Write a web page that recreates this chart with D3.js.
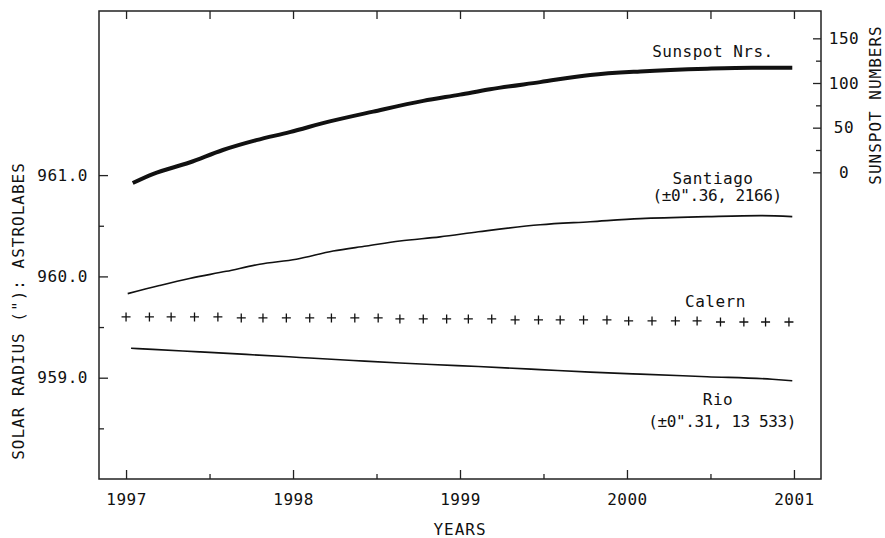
<!DOCTYPE html>
<meta charset="utf-8">
<style>
  body { margin: 0; background: #fff; }
  svg text { font-family: "DejaVu Sans Mono", monospace; font-size: 16px; fill: #111; letter-spacing: 0.5px; }
  svg text.title { letter-spacing: 1px; }
  svg text.err { letter-spacing: -0.4px; }
  .frame { fill: none; stroke: #222; stroke-width: 1.5px; }
  .axis path { display: none; }
  .axis line { stroke: #222; stroke-width: 1.3px; }
</style>
<body>
<script src="https://cdn.jsdelivr.net/npm/d3@7"></script>
<script>
// values
var sunspotYear = [1997.04, 1997.16, 1997.38, 1997.58, 1997.78, 1997.98, 1998.22, 1998.48, 1998.78, 1999.00, 1999.18, 1999.48, 1999.78, 2000.08, 2000.48, 2000.75, 2000.99];
var sunspotNum  = [-12, -2, 11, 25, 36, 45, 57, 68, 80, 87, 93, 101, 109, 113, 116, 117, 117];

var santiagoYear = [1997.01, 1997.20, 1997.38, 1997.60, 1997.80, 1998.02, 1998.24, 1998.44, 1998.64, 1998.88, 1999.11, 1999.48, 1999.78, 2000.08, 2000.48, 2000.80, 2000.99];
var santiagoR    = [959.83, 959.91, 959.98, 960.05, 960.12, 960.17, 960.25, 960.30, 960.35, 960.39, 960.44, 960.51, 960.54, 960.57, 960.59, 960.60, 960.59];

var calernYear = [1997.00, 1997.14, 1997.27, 1997.41, 1997.55, 1997.69, 1997.82, 1997.96, 1998.10, 1998.23,
                  1998.37, 1998.51, 1998.64, 1998.78, 1998.92, 1999.05, 1999.19, 1999.33, 1999.47, 1999.60,
                  1999.74, 1999.88, 2000.01, 2000.15, 2000.29, 2000.42, 2000.56, 2000.70, 2000.83, 2000.97];
var calernR    = [959.60, 959.60, 959.60, 959.60, 959.60, 959.59, 959.59, 959.59, 959.59, 959.59,
                  959.59, 959.59, 959.58, 959.58, 959.58, 959.58, 959.58, 959.57, 959.57, 959.57,
                  959.57, 959.57, 959.56, 959.56, 959.56, 959.56, 959.55, 959.55, 959.55, 959.55];

var rioYear = [1997.03, 1997.16, 1997.44, 1997.72, 1998.04, 1998.36, 1998.64, 1998.83, 1999.11, 1999.48, 1999.78, 2000.08, 2000.48, 2000.87, 2000.99];
var rioR    = [959.29, 959.28, 959.255, 959.23, 959.20, 959.17, 959.145, 959.13, 959.11, 959.08, 959.055, 959.035, 959.01, 958.985, 958.97];

// ticks
var yearTicks = [1997, 1998, 1999, 2000, 2001];
var halfYearTicks = [1997.5, 1998.5, 1999.5, 2000.5];
var radiusTicks = [959, 960, 961];
var radiusMinor = [958.5, 959.5, 960.5];
var sunspotTicks = [0, 50, 100, 150];
var sunspotMinor = [25, 75, 125];

var margin = { top: 11, right: 64, bottom: 59, left: 99 };
var W = 885, H = 538;
var width = W - margin.left - margin.right,
    height = H - margin.top - margin.bottom;

var svg = d3.select("body").append("svg")
    .attr("width", W)
    .attr("height", H);

var g = svg.append("g")
    .attr("transform", "translate(" + margin.left + "," + margin.top + ")");

var x = d3.scaleLinear().domain([1996.838, 2001.162]).range([0, width]);
var y = d3.scaleLinear().domain([958.0, 962.62]).range([height, 0]);
var s = d3.scaleLinear().domain([-343.3, 180.6]).range([height, 0]);

// frame
g.append("rect").attr("class", "frame")
    .attr("width", width).attr("height", height);

// bottom axis, ticks inward
g.append("g").attr("class", "axis")
    .attr("transform", "translate(0," + height + ")")
    .call(d3.axisBottom(x).tickValues(yearTicks).tickSize(-9).tickPadding(15).tickFormat(d3.format("d")));
g.append("g").attr("class", "axis")
    .attr("transform", "translate(0," + height + ")")
    .call(d3.axisBottom(x).tickValues(halfYearTicks).tickSize(-5).tickFormat(""));

// top axis
g.append("g").attr("class", "axis")
    .call(d3.axisTop(x).tickValues(yearTicks.concat(halfYearTicks)).tickSize(-8).tickFormat(""));

// left axis
g.append("g").attr("class", "axis")
    .call(d3.axisLeft(y).tickValues(radiusTicks).tickSize(-9).tickPadding(11).tickFormat(d3.format(".1f")));
g.append("g").attr("class", "axis")
    .call(d3.axisLeft(y).tickValues(radiusMinor).tickSize(-5).tickFormat(""));

// right axis (sunspots)
var ra = g.append("g").attr("class", "axis")
    .attr("transform", "translate(" + width + ",0)")
    .call(d3.axisRight(s).tickValues(sunspotTicks).tickSize(-8).tickFormat(d3.format("d")));
ra.selectAll("text").attr("x", 23).style("text-anchor", "middle");
g.append("g").attr("class", "axis")
    .attr("transform", "translate(" + width + ",0)")
    .call(d3.axisRight(s).tickValues(sunspotMinor).tickSize(-5).tickFormat(""));

g.selectAll(".axis text").style("font-size", "16px").attr("fill", "#111");

// lines
var radiusLine = d3.line()
    .x(function (d) { return x(d[0]); })
    .y(function (d) { return y(d[1]); })
    .curve(d3.curveMonotoneX);

var sunLine = d3.line()
    .x(function (d) { return x(d[0]); })
    .y(function (d) { return s(d[1]); })
    .curve(d3.curveMonotoneX);

g.append("path")
    .attr("d", sunLine(d3.zip(sunspotYear, sunspotNum)))
    .style("fill", "none").style("stroke", "#111").style("stroke-width", "4px");

g.append("path")
    .attr("d", radiusLine(d3.zip(santiagoYear, santiagoR)))
    .style("fill", "none").style("stroke", "#111").style("stroke-width", "1.6px");

g.append("path")
    .attr("d", radiusLine(d3.zip(rioYear, rioR)))
    .style("fill", "none").style("stroke", "#111").style("stroke-width", "1.6px");

// Calern plus markers
g.selectAll(".calern")
    .data(d3.zip(calernYear, calernR))
  .enter().append("path")
    .attr("class", "calern")
    .attr("d", function (d) {
      var cx = x(d[0]), cy = y(d[1]);
      return "M" + (cx - 4.5) + "," + cy + "H" + (cx + 4.5) + "M" + cx + "," + (cy - 4.5) + "V" + (cy + 4.5);
    })
    .style("stroke", "#111").style("stroke-width", "1.3px").style("fill", "none");

// annotations
g.append("text")
    .attr("x", x(2000.515)).attr("y", s(129))
    .style("text-anchor", "middle")
    .text("Sunspot Nrs.");

g.append("text")
    .attr("x", x(2000.515)).attr("y", y(960.91))
    .style("text-anchor", "middle")
    .text("Santiago");

g.append("text").attr("class", "err")
    .attr("x", x(2000.54)).attr("y", y(960.74))
    .style("text-anchor", "middle")
    .text("(\u00b10\".36, 2166)");

g.append("text")
    .attr("x", x(2000.53)).attr("y", y(959.70))
    .style("text-anchor", "middle")
    .text("Calern");

g.append("text")
    .attr("x", x(2000.545)).attr("y", y(958.73))
    .style("text-anchor", "middle")
    .text("Rio");

g.append("text").attr("class", "err")
    .attr("x", x(2000.57)).attr("y", y(958.51))
    .style("text-anchor", "middle")
    .text("(\u00b10\".31, 13\u2009533)");

// axis titles
svg.append("text").attr("class", "title")
    .attr("x", margin.left + x(1999)).attr("y", 535)
    .style("text-anchor", "middle")
    .text("YEARS");

svg.append("text").attr("class", "title")
    .attr("transform", "translate(24," + 311 + ") rotate(-90)")
    .style("text-anchor", "middle")
    .text("SOLAR RADIUS (\"): ASTROLABES");

svg.append("text").attr("class", "title")
    .attr("transform", "translate(881," + 105 + ") rotate(-90)")
    .style("text-anchor", "middle")
    .text("SUNSPOT NUMBERS");
</script>
</body>
